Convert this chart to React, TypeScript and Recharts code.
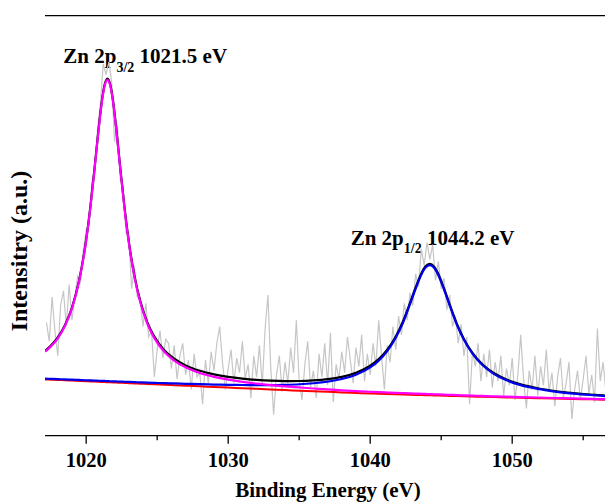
import { LineChart, Line, XAxis, YAxis, ReferenceLine } from 'recharts';

// Zn 2p XPS scan: raw counts on a uniform 0.2 eV grid starting at 1017.2 eV
const rawStart = 1017.2;
const rawStep = 0.2;
const rawCounts = [
  27.0, 22.5, 33.0, 25.0, 19.0, 31.0, 34.5, 26.0, 36.0, 27.5,
  33.0, 38.0, 36.5, 44.0, 49.0, 50.0, 60.5, 62.0, 73.0, 79.0,
  88.5, 86.0, 89.0, 84.0, 70.0, 74.0, 61.0, 59.5, 48.5, 47.5,
  35.0, 40.5, 33.0, 32.5, 26.0, 31.5, 23.5, 25.0, 14.0, 20.5,
  25.0, 18.5, 23.0, 22.0, 16.0, 21.5, 13.5, 19.0, 22.0, 14.5,
  18.0, 11.0, 19.5, 14.0, 15.0, 7.5, 18.0, 12.5, 20.0, 15.5,
  22.0, 26.0, 17.5, 11.0, 16.0, 20.5, 12.5, 18.5, 15.0, 22.5,
  13.5, 17.0, 9.0, 19.0, 14.0, 21.5, 12.0, 25.5, 33.5, 16.0,
  5.0, 14.5, 19.0, 10.5, 17.5, 12.5, 21.0, 15.0, 27.5, 13.0,
  8.5, 17.0, 22.5, 11.5, 15.5, 9.0, 19.5, 14.0, 22.0, 12.0,
  24.5, 8.0, 17.0, 13.5, 20.0, 15.0, 23.5, 18.0, 12.5, 21.0,
  16.5, 24.0, 13.0, 19.5, 14.5, 22.0, 16.5, 27.5, 19.0, 11.0,
  21.5, 17.5, 26.0, 20.5, 28.5, 24.0, 31.5, 27.5, 34.0, 31.0,
  38.5, 35.5, 44.5, 40.5, 46.0, 42.0, 45.5, 37.0, 41.5, 35.0,
  37.5, 30.0, 33.5, 26.0, 28.5, 22.0, 26.5, 19.0, 23.5, 7.5,
  20.0, 16.5, 22.0, 13.0, 19.5, 14.0, 20.5, 11.5, 17.5, 13.0,
  19.0, 9.5, 16.0, 12.0, 18.5, 8.5, 14.5, 24.0, 13.5, 6.5,
  15.5, 11.0, 19.0, 9.5, 16.5, 12.0, 20.5, 10.5, 15.0, 7.0,
  14.0, 18.5, 9.0, 12.5, 17.5, 4.0, 11.0, 15.5, 8.5, 13.5,
  19.0, 10.0, 14.5, 8.0, 25.5, 13.0, 17.5, 10.5,
];

// fitted components, sampled more densely around the two peaks
const fitEnergy = [
  1017.1, 1017.5, 1018, 1018.5, 1019, 1019.5, 1020, 1020.3, 1020.6, 1020.9,
  1021.1, 1021.3, 1021.5, 1021.7, 1021.9, 1022.1, 1022.4, 1022.7, 1023, 1023.4,
  1023.8, 1024.3, 1024.8, 1025.5, 1026.2, 1027, 1028, 1029, 1030, 1031,
  1032, 1033, 1034, 1035, 1036, 1037, 1038, 1039, 1040, 1040.6,
  1041.2, 1041.8, 1042.3, 1042.8, 1043.2, 1043.6, 1043.9, 1044.2, 1044.5, 1044.8,
  1045.2, 1045.6, 1046.1, 1046.6, 1047.2, 1047.9, 1048.7, 1049.6, 1050.6, 1051.8,
  1053, 1054.3, 1055.5, 1056.6,
];
const fitBackground = [
  13.4, 13.35, 13.27, 13.2, 13.12, 13.05, 12.97, 12.92, 12.88, 12.83,
  12.8, 12.77, 12.74, 12.71, 12.68, 12.65, 12.6, 12.56, 12.51, 12.45,
  12.39, 12.31, 12.24, 12.13, 12.03, 11.9, 11.75, 11.6, 11.45, 11.3,
  11.15, 11.0, 10.86, 10.72, 10.58, 10.44, 10.3, 10.17, 10.05, 9.98,
  9.92, 9.86, 9.81, 9.76, 9.72, 9.68, 9.65, 9.62, 9.59, 9.56,
  9.52, 9.48, 9.43, 9.38, 9.32, 9.26, 9.19, 9.11, 9.03, 8.93,
  8.84, 8.74, 8.65, 8.57,
];
const fitPeak32 = [
  6.62, 7.86, 9.93, 12.9, 17.2, 23.7, 33.5, 41.5, 50.95, 60.8,
  66.57, 70.56, 72, 70.56, 66.57, 60.8, 50.95, 41.5, 33.5, 25.3,
  19.5, 14.4, 11.0, 7.86, 5.87, 4.38, 3.19, 2.42, 1.9, 1.53,
  1.26, 1.05, 0.89, 0.77, 0.66, 0.58, 0.51, 0.46, 0.41, 0.38,
  0.36, 0.34, 0.33, 0.32, 0.31, 0.3, 0.29, 0.28, 0.27, 0.27,
  0.26, 0.25, 0.24, 0.23, 0.22, 0.21, 0.19, 0.18, 0.17, 0.16,
  0.14, 0.13, 0.12, 0.12,
];
const fitPeak12 = [
  0.19, 0.19, 0.2, 0.21, 0.21, 0.22, 0.23, 0.24, 0.24, 0.25,
  0.25, 0.26, 0.26, 0.26, 0.27, 0.27, 0.28, 0.29, 0.29, 0.3,
  0.31, 0.33, 0.35, 0.38, 0.42, 0.46, 0.51, 0.58, 0.66, 0.77,
  0.89, 1.05, 1.26, 1.53, 1.91, 2.43, 3.19, 4.35, 6.2, 7.87,
  10.2, 13.44, 17.0, 21.5, 25.27, 28.66, 30.38, 31, 30.38, 28.66,
  25.27, 21.5, 17.0, 13.44, 10.2, 7.56, 5.54, 4.07, 3.01, 2.2,
  1.67, 1.29, 1.04, 0.86,
];

const majorTicks = [1020, 1030, 1040, 1050];
const minorTicks = [1025, 1035, 1045, 1055];

const peakLabels = [
  { sub: '3/2', energy: 1021.5, x: 63.3, y: 63.3 },
  { sub: '1/2', energy: 1044.2, x: 350.7, y: 245 },
];

const rawData = rawCounts.map((counts, i) => ({
  energy: Number((rawStart + i * rawStep).toFixed(1)),
  counts,
}));

const fitData = fitEnergy.map((energy, i) => ({
  energy,
  background: fitBackground[i],
  peak32: fitBackground[i] + fitPeak32[i],
  peak12: fitBackground[i] + fitPeak12[i],
  envelope: fitBackground[i] + fitPeak32[i] + fitPeak12[i],
}));

const serif = "'Liberation Serif', 'Times New Roman', serif";

function EnergyTick({ x, y, payload }: any) {
  const major = majorTicks.includes(payload.value);
  return (
    <g>
      <line x1={x} x2={x} y1={y} y2={y + (major ? 8 : 4.5)} stroke="#000" strokeWidth={1.3} />
      {major && (
        <text x={x} y={y + 31.3} textAnchor="middle" fontFamily={serif} fontWeight="bold" fontSize={20.5} fill="#000">
          {payload.value}
        </text>
      )}
    </g>
  );
}

export default function App() {
  return (
    <div style={{ position: 'absolute', top: 0, left: 0, width: 605, height: 502, overflow: 'hidden' }}>
      <LineChart width={631} height={502} margin={{ top: 15.7, right: 5.2, bottom: 26.3, left: 45 }}>
        <XAxis
          dataKey="energy"
          type="number"
          domain={[1017.1, 1058]}
          allowDataOverflow
          ticks={[...majorTicks, ...minorTicks].sort((a, b) => a - b)}
          interval={0}
          height={40}
          tickSize={0}
          tickMargin={0}
          tickLine={false}
          tick={<EnergyTick />}
          axisLine={{ stroke: '#000', strokeWidth: 1.3 }}
        />
        <YAxis
          type="number"
          domain={[0, 100]}
          allowDataOverflow
          width={0}
          tick={false}
          tickLine={false}
          axisLine={{ stroke: '#000', strokeWidth: 1.3 }}
        />
        {/* top edge of the frame */}
        <ReferenceLine y={100} stroke="#000" strokeWidth={1.3} />
        <Line data={rawData} dataKey="counts" type="linear" stroke="#c6c6c6" strokeWidth={1.2} dot={false} isAnimationActive={false} />
        <Line data={fitData} dataKey="envelope" type="monotone" stroke="#000" strokeWidth={2.2} dot={false} isAnimationActive={false} />
        <Line data={fitData} dataKey="background" type="monotone" stroke="#ff0000" strokeWidth={2} dot={false} isAnimationActive={false} />
        <Line data={fitData} dataKey="peak12" type="monotone" stroke="#0000ee" strokeWidth={2.2} dot={false} isAnimationActive={false} />
        <Line data={fitData} dataKey="peak32" type="monotone" stroke="#ff00ff" strokeWidth={2.2} dot={false} isAnimationActive={false} />
        {peakLabels.map((p) => (
          <text key={p.sub} x={p.x} y={p.y} fontFamily={serif} fontWeight="bold" fontSize={21} fill="#000">
            Zn 2p
            <tspan fontSize={14} dy={8.4}>{p.sub}</tspan>
            <tspan dy={-8.4}>{` ${p.energy.toFixed(1)} eV`}</tspan>
          </text>
        ))}
        <text
          x={27}
          y={251}
          transform="rotate(-90 27 251)"
          textAnchor="middle"
          fontFamily={serif}
          fontWeight="bold"
          fontSize={24}
          fill="#000"
        >
          Intensitry (a.u.)
        </text>
        <text x={328} y={497} textAnchor="middle" fontFamily={serif} fontWeight="bold" fontSize={21} fill="#000">
          Binding Energy (eV)
        </text>
      </LineChart>
    </div>
  );
}
